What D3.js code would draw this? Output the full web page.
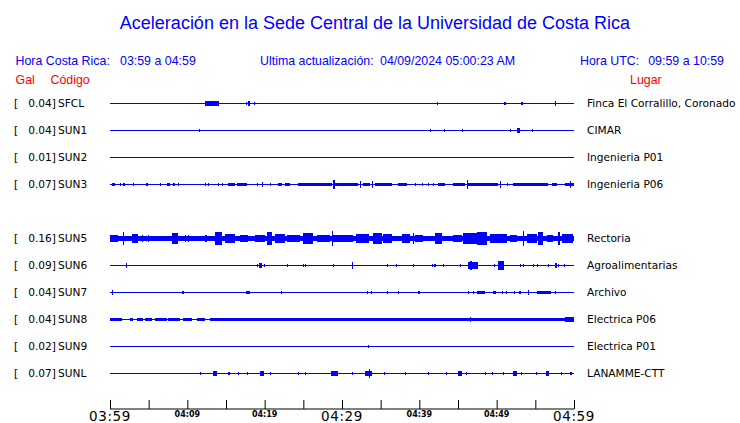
<!DOCTYPE html>
<html><head><meta charset="utf-8">
<script src="https://cdn.jsdelivr.net/npm/d3@7"></script>
<style>body{margin:0;background:#fff}svg{display:block}</style>
</head><body><div id="c"></div>
<script>
// ---- data ----
const title = "Aceleración en la Sede Central de la Universidad de Costa Rica";
const horaCR = "03:59 a 04:59";
const horaUTC = "09:59 a 10:59";
const actualizacion = "04/09/2024 05:00:23 AM";
const codes = ["SFCL","SUN1","SUN2","SUN3","SUN5","SUN6","SUN7","SUN8","SUN9","SUNL"];
const rowIndex = [0,1,2,3,5,6,7,8,9,10];
const peakGal = [0.04,0.04,0.01,0.07,0.16,0.09,0.04,0.04,0.02,0.07];
const places = ["Finca El Corralillo, Coronado","CIMAR","Ingenieria P01","Ingenieria P06","Rectoria","Agroalimentarias","Archivo","Electrica P06","Electrica P01","LANAMME-CTT"];
const tickMinutes = [0,5,10,15,20,25,30,35,40,45,50,55,60];
const tickLabels = ["03:59","","04:09","","04:19","","04:29","","04:39","","04:49","","04:59"];
const majorLabels = ["03:59","04:29","04:59"];
// events per station: [start minute, end minute, amplitude Gal]
const evSFCL = [[12.28,14.1,0.03],[17.55,17.65,0.025],[17.85,18.1,0.03],[18.58,18.68,0.025],[42.25,42.35,0.025],[51.0,51.1,0.025],[53.19,53.29,0.025],[57.58,57.68,0.04]];
const evSUN1 = [[11.5,11.6,0.012],[41.4,41.5,0.02],[43.2,43.3,0.02],[45.5,45.6,0.02],[51.7,51.8,0.02],[52.6,53.0,0.035],[54.6,54.7,0.015]];
const evSUN2 = [[29.5,29.6,0.01],[33.1,33.2,0.01]];
const evSUN3 = [[0.22,0.65,0.02],[1.29,1.39,0.02],[1.72,1.82,0.015],[3.0,3.1,0.02],[4.6,4.9,0.025],[6.47,6.57,0.02],[7.33,7.43,0.015],[7.54,7.64,0.015],[8.19,8.29,0.02],[8.75,8.85,0.02],[12.28,12.38,0.02],[12.71,12.81,0.02],[14.0,14.1,0.02],[14.44,14.54,0.02],[15.26,16.16,0.022],[16.42,17.72,0.015],[18.97,19.07,0.02],[19.62,19.72,0.04],[20.69,20.79,0.02],[21.72,22.24,0.02],[22.63,23.28,0.02],[24.31,28.71,0.018],[28.88,28.98,0.07],[29.1,32.07,0.018],[32.33,32.43,0.05],[32.7,33.6,0.018],[33.84,33.94,0.05],[34.27,36.47,0.02],[37.24,38.4,0.018],[39.44,39.54,0.025],[40.3,40.4,0.02],[41.12,41.22,0.02],[41.77,41.87,0.02],[42.41,43.32,0.02],[44.35,45.9,0.02],[46.13,46.23,0.07],[46.29,50.17,0.02],[50.43,50.53,0.05],[51.3,51.4,0.02],[52.11,56.64,0.02],[57.16,57.8,0.02],[58.84,60,0.022],[59.48,59.58,0.05]];
const evSUN5 = [[0,60,0.035],[0,1.03,0.06],[1.68,1.78,0.12],[2.84,3.62,0.09],[4.1,4.2,0.06],[4.91,5.01,0.06],[8.02,8.79,0.1],[9.7,9.8,0.06],[10.09,10.19,0.06],[12.28,12.54,0.06],[13.58,14.48,0.13],[14.87,16.16,0.08],[16.81,17.85,0.05],[18.75,20.04,0.06],[20.3,20.95,0.12],[21.34,22.63,0.08],[22.89,24.57,0.06],[24.96,26.25,0.1],[26.77,28.45,0.06],[28.71,28.81,0.16],[28.84,31.42,0.06],[31.81,33.49,0.08],[34.0,35.17,0.1],[35.3,36.47,0.08],[37.76,38.79,0.08],[39.18,39.28,0.1],[39.44,40.47,0.06],[42.03,42.93,0.1],[44.35,45.52,0.06],[45.65,47.46,0.1],[47.46,48.75,0.12],[47.5,47.6,0.14],[49.14,51.34,0.08],[51.72,52.63,0.06],[53.41,53.51,0.16],[53.92,55.22,0.08],[55.35,55.99,0.12],[56.51,57.29,0.06],[57.93,58.19,0.14],[58.45,59.87,0.08]];
const evSUN6 = [[2.03,2.2,0.03],[14.22,14.32,0.01],[18.97,19.07,0.02],[19.27,19.66,0.03],[19.91,20.01,0.015],[22.85,22.95,0.025],[24.91,25.01,0.02],[25.22,25.32,0.02],[28.84,28.94,0.015],[31.33,31.43,0.05],[35.78,35.88,0.025],[36.94,37.04,0.025],[39.14,39.24,0.025],[41.6,41.7,0.025],[41.94,42.04,0.025],[43.06,43.16,0.015],[45.26,45.36,0.02],[46.25,47.55,0.05],[46.6,46.7,0.07],[49.66,49.76,0.015],[50.17,50.95,0.07],[50.6,50.7,0.09],[53.02,53.12,0.025],[53.43,53.53,0.025],[54.7,54.8,0.015],[55.17,55.27,0.015],[56.64,56.74,0.015],[57.55,57.8,0.03],[57.93,58.03,0.015],[58.71,58.81,0.015]];
const evSUN7 = [[0.22,0.32,0.03],[4.53,4.63,0.01],[9.35,9.45,0.025],[17.65,18.1,0.025],[22.11,22.21,0.02],[28.67,28.77,0.01],[33.26,33.36,0.025],[33.7,33.8,0.025],[35.78,35.88,0.02],[37.28,37.38,0.02],[39.87,39.97,0.02],[43.97,44.07,0.01],[46.25,46.35,0.02],[46.9,47.0,0.02],[47.42,48.49,0.025],[49.53,49.91,0.02],[50.65,50.75,0.02],[51.21,51.31,0.02],[52.28,52.38,0.02],[52.93,53.03,0.02],[54.01,54.11,0.04],[55.18,57.03,0.025],[57.54,57.64,0.02],[58.49,58.59,0.01],[59.48,59.58,0.01]];
const evSUN8 = [[0,1.55,0.018],[2.59,2.97,0.015],[3.49,4.27,0.015],[4.53,5.43,0.02],[5.82,7.37,0.015],[7.5,9.05,0.015],[9.44,10.6,0.015],[11.25,12.28,0.015],[12.93,60,0.025],[46.5,46.6,0.04],[58.84,60,0.032]];
const evSUN9 = [[29.22,29.32,0.01],[33.3,33.4,0.02]];
const evSUNL = [[11.64,11.74,0.02],[13.32,13.84,0.03],[15.32,15.42,0.02],[16.49,16.59,0.02],[17.72,17.82,0.02],[19.4,19.91,0.03],[20.69,20.79,0.02],[24.31,24.41,0.02],[25.22,25.32,0.02],[28.58,29.48,0.035],[31.29,31.39,0.02],[32.97,33.88,0.035],[33.43,33.53,0.07],[35.43,35.53,0.02],[38.15,38.25,0.02],[41.12,41.22,0.02],[43.45,43.55,0.02],[44.97,45.52,0.03],[46.03,46.13,0.02],[48.49,48.59,0.02],[49.4,49.5,0.02],[50.82,50.92,0.02],[52.11,52.63,0.03],[53.15,53.25,0.02],[55.09,55.19,0.02],[56.38,56.77,0.03],[58.32,58.42,0.02],[59.48,59.74,0.025]];
const events = [evSFCL,evSUN1,evSUN2,evSUN3,evSUN5,evSUN6,evSUN7,evSUN8,evSUN9,evSUNL];

// ---- drawing ----
const W = 740, H = 423;
const svg = d3.select("#c").append("svg").attr("width", W).attr("height", H);
const blue = "#0000ff", red = "#ff0000";
const x = d3.scaleLinear().domain([0, 60]).range([110, 574]);
const row = d3.scaleLinear().domain([0, 10]).range([103, 373]);
const amp = d3.scalePow().exponent(0.75).domain([0, 0.16]).range([0, 7.5]);

svg.append("text").attr("x", 375).attr("y", 29).attr("text-anchor", "middle")
  .attr("font-family", "Liberation Sans, Arial, sans-serif").attr("font-size", 18).attr("fill", blue).text(title);

const hdr = svg.append("g").attr("font-family", "Liberation Sans, Arial, sans-serif").attr("font-size", 12.4).attr("fill", blue);
hdr.append("text").attr("x", 15.5).attr("y", 65).text("Hora Costa Rica:");
hdr.append("text").attr("x", 120).attr("y", 65).text(horaCR);
hdr.append("text").attr("x", 260).attr("y", 65).text("Ultima actualización:");
hdr.append("text").attr("x", 380).attr("y", 65).text(actualizacion);
hdr.append("text").attr("x", 580).attr("y", 65).text("Hora UTC:");
hdr.append("text").attr("x", 724).attr("y", 65).attr("text-anchor", "end").text(horaUTC);

const hdr2 = svg.append("g").attr("font-family", "Liberation Sans, Arial, sans-serif").attr("font-size", 12.4).attr("fill", red);
hdr2.append("text").attr("x", 15.5).attr("y", 84).text("Gal");
hdr2.append("text").attr("x", 50.5).attr("y", 84).text("Código");
hdr2.append("text").attr("x", 630).attr("y", 84).text("Lugar");

const lab = svg.append("g").attr("font-family", "DejaVu Sans, sans-serif").attr("font-size", 10.6).attr("fill", "#000");
codes.forEach((c, i) => {
  const yc = row(rowIndex[i]);
  lab.append("text").attr("x", 14).attr("y", yc + 4).text("[");
  lab.append("text").attr("x", 56).attr("y", yc + 4).attr("text-anchor", "end").text(peakGal[i].toFixed(2) + "]");
  lab.append("text").attr("x", 58).attr("y", yc + 4).text(c);
  lab.append("text").attr("x", 587).attr("y", yc + 4).text(places[i]);

  const g = svg.append("g").attr("shape-rendering", "crispEdges");
  g.append("line").attr("x1", x(0)).attr("x2", x(60)).attr("y1", yc + 0.5).attr("y2", yc + 0.5)
    .attr("stroke", blue).attr("stroke-width", 1);
  g.selectAll("rect").data(events[i]).join("rect")
    .attr("x", d => x(d[0]))
    .attr("width", d => Math.max(1.2, x(d[1]) - x(d[0])))
    .attr("y", d => yc + 0.5 - amp(d[2]))
    .attr("height", d => Math.max(1, 2 * amp(d[2])))
    .attr("fill", blue);
});

// axis
const axisY = 409;
const ax = svg.append("g").attr("transform", `translate(0,${axisY})`)
  .call(d3.axisTop(x).tickValues(tickMinutes).tickSize(9).tickFormat(""));
ax.select(".domain").attr("d", `M${x(0)},0H${x(60)}`).attr("stroke", "#000");
ax.selectAll(".tick line").attr("stroke", "#000");

const tl = svg.append("g").attr("font-family", "DejaVu Sans, sans-serif").attr("fill", "#000").attr("text-anchor", "middle");
tickMinutes.forEach((m, i) => {
  const t = tickLabels[i];
  if (!t) return;
  const major = majorLabels.includes(t);
  tl.append("text").attr("x", x(m)).attr("y", major ? 421 : 417)
    .attr("font-size", major ? 13.5 : 8).attr("font-weight", major ? "normal" : "bold")
    .attr("letter-spacing", major ? 0.6 : 0).text(t);
});
</script>
</body></html>
